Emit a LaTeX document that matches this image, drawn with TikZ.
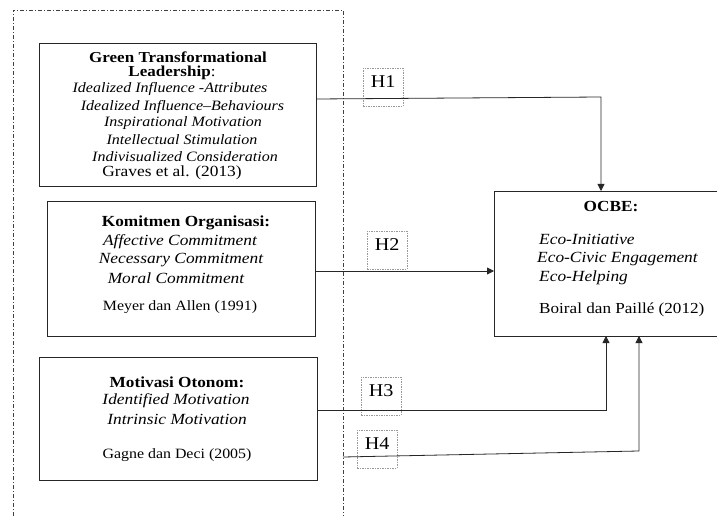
\documentclass[tikz,border=0pt]{standalone}
\usepackage{fontspec}
\setmainfont{Liberation Serif}[FakeStretch=1.12]
\usetikzlibrary{arrows.meta}
\tikzset{
  frame/.style={draw=black!75, line width=0.7pt, dash pattern=on 4pt off 2pt on 1pt off 2pt},
  varbox/.style={draw=black!85, line width=0.9pt},
  hbox/.style={draw=black!40, dashed, dash pattern=on 1.5pt off 1pt, line width=0.5pt, minimum width=40pt, minimum height=38pt, inner sep=0pt, anchor=north west},
  hlabel/.style={font=\fontsize{18}{20}\selectfont, inner sep=0pt},
  conn/.style={draw=black!85, line width=0.8pt},
  arr/.style={conn, -{Triangle[length=7pt,width=7pt]}},
  tb/.style={font=\fontsize{15.2}{16}\bfseries\selectfont, inner sep=0pt},
  ti/.style={font=\fontsize{14.3}{16}\itshape\selectfont, inner sep=0pt},
  tn/.style={font=\fontsize{15.5}{16}\selectfont, inner sep=0pt},
  tbb/.style={font=\fontsize{15.4}{17}\bfseries\selectfont, inner sep=0pt},
  tii/.style={font=\fontsize{15.5}{17}\itshape\selectfont, inner sep=0pt},
  tns/.style={font=\fontsize{14.2}{17}\selectfont, inner sep=0pt},
  tnn/.style={font=\fontsize{15.3}{17}\selectfont, inner sep=0pt},
}
\begin{document}
\begin{tikzpicture}[x=1pt,y=-1pt]
\useasboundingbox (0,0) rectangle (718,516);
% outer frame
\draw[frame] (13,516) -- (13,10) -- (343,10) -- (343,516);
% boxes
\draw[varbox] (39,43) rectangle (316,186);
\draw[varbox] (47,201) rectangle (315,336);
\draw[varbox] (39,357) rectangle (317,480);
\draw[varbox] (717,191) -- (494,191) -- (494,336) -- (717,336);
\coordinate (b1) at (316,99);
\coordinate (b2) at (315,271);
\coordinate (b3) at (317,410);
\coordinate (b4) at (343,457);
\coordinate (oTop) at (601,191);
\coordinate (oLeft) at (494,271);
\coordinate (oB3) at (606,336);
\coordinate (oB4) at (639,336);
% box 1 text
\node[tb] (g1) at (178,57) {Green Transformational};
\node[tb] (g2) at (172,72.5) {Leadership\textmd{:}};
\node[ti] (g3) at (170,89) {Idealized Influence -Attributes};
\node[ti] (g4) at (182.5,106.5) {Idealized Influence\textendash Behaviours};
\node[ti] (g5) at (183,123) {Inspirational Motivation};
\node[ti] (g6) at (182,140) {Intellectual Stimulation};
\node[ti] (g7) at (185,157) {Indivisualized Consideration};
\node[tn] (g8) at (172,173) {Graves et al. (2013)};
% box 2 text
\node[tbb] (k1) at (186,223) {Komitmen Organisasi:};
\node[tii] (k2) at (180,242) {Affective Commitment};
\node[tii] (k3) at (181,260) {Necessary Commitment};
\node[tii] (k4) at (176,278) {Moral Commitment};
\node[tns] (k5) at (180,307) {Meyer dan Allen (1991)};
% box 3 text
\node[tbb] (m1) at (177,382) {Motivasi Otonom:};
\node[tii] (m2) at (176,401) {Identified Motivation};
\node[tii] (m3) at (177,419) {Intrinsic Motivation};
\node[tns] (m4) at (177,455) {Gagne dan Deci (2005)};
% OCBE text
\node[tbb] (o1) at (611,207) {OCBE:};
\node[tii, anchor=west] (o2) at (539,239) {Eco-Initiative};
\node[tii, anchor=west] (o3) at (537,259) {Eco-Civic Engagement};
\node[tii, anchor=west] (o4) at (539,278) {Eco-Helping};
\node[tnn, anchor=west] (o5) at (539,310) {Boiral dan Paill\'e (2012)};
% hypothesis boxes
\node[hbox] (h1) at (363,68) {};
\node[hlabel] (h1t) at ([yshift=-14pt]h1.north) {H1};
\node[hbox] (h2) at (367,231) {};
\node[hlabel] (h2t) at ([yshift=-14pt]h2.north) {H2};
\node[hbox] (h3) at (361,377) {};
\node[hlabel] (h3t) at ([yshift=-14pt]h3.north) {H3};
\node[hbox] (h4) at (357,430) {};
\node[hlabel] (h4t) at ([yshift=-14pt]h4.north) {H4};
% connectors
\draw[arr] (b1) -- (601,97) -- (oTop);
\draw[arr] (b2) -- (oLeft);
\draw[arr] (b3) -- (606,410) -- (oB3);
\draw[arr] (b4) -- (639,451) -- (oB4);
\end{tikzpicture}
\end{document}
